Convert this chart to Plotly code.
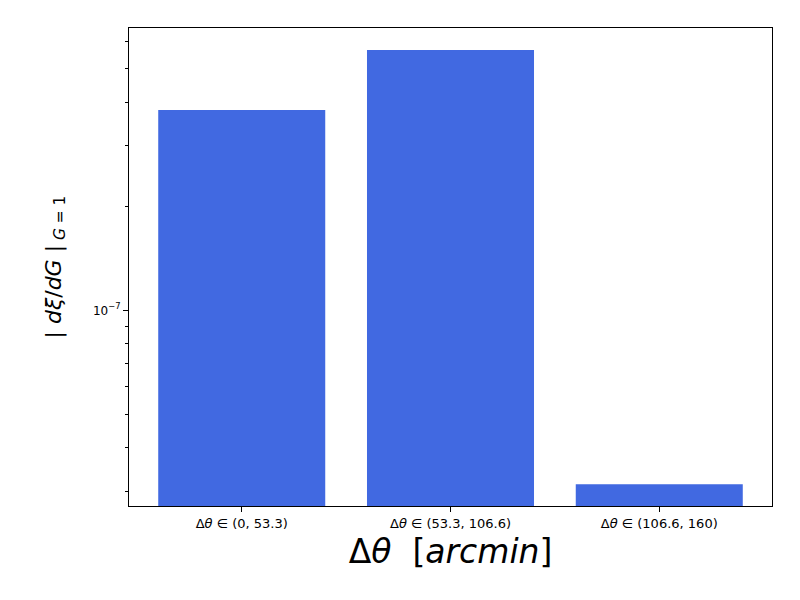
import plotly.graph_objects as go
import numpy as np

categories = ["Δ<i>θ</i> ∈ (0, 53.3)", "Δ<i>θ</i> ∈ (53.3, 106.6)", "Δ<i>θ</i> ∈ (106.6, 160)"]
values = [3.80e-7, 5.67e-7, 3.14e-8]

major_vals = [1e-7]
major_text = ["10<sup>−7</sup>"]
minor_vals = [3e-8, 4e-8, 5e-8, 6e-8, 7e-8, 8e-8, 9e-8, 2e-7, 3e-7, 4e-7, 5e-7, 6e-7]

fig = go.Figure()
fig.add_trace(go.Bar(x=[0, 1, 2], y=values, width=0.8, marker=dict(color="#4169E1", line=dict(width=0))))

fig.update_layout(
    width=800, height=600,
    margin=dict(l=121, r=36, t=20, b=102),
    plot_bgcolor="white", paper_bgcolor="white",
    showlegend=False,
    font=dict(family="DejaVu Sans", color="black"),
)
fig.update_xaxes(
    range=[-0.54, 2.54],
    tickmode="array", tickvals=[0, 1, 2], ticktext=categories,
    tickfont=dict(size=13),
    ticks="outside", ticklen=5, tickcolor="black",
    showline=True, linecolor="black", linewidth=1, mirror=True,
    showgrid=False, zeroline=False,
    title=dict(text="Δ<i>θ</i>  [<i>arcmin</i>]", font=dict(size=33), standoff=10),
)
fig.update_yaxes(
    type="log",
    range=[np.log10(2.715e-8), np.log10(6.56e-7)],
    tickmode="array", tickvals=major_vals, ticktext=major_text,
    tickfont=dict(size=12),
    ticks="outside", ticklen=5, tickcolor="black",
    minor=dict(tickmode="array", tickvals=minor_vals, ticks="outside", ticklen=3, tickcolor="black", showgrid=False),
    showline=True, linecolor="black", linewidth=1, mirror=True,
    showgrid=False, zeroline=False,
    title=dict(text="| <i>dξ</i>/<i>dG</i> |<sub> <i>G</i> = 1</sub>", font=dict(size=22), standoff=25),
)
fig.write_html("out.html")
